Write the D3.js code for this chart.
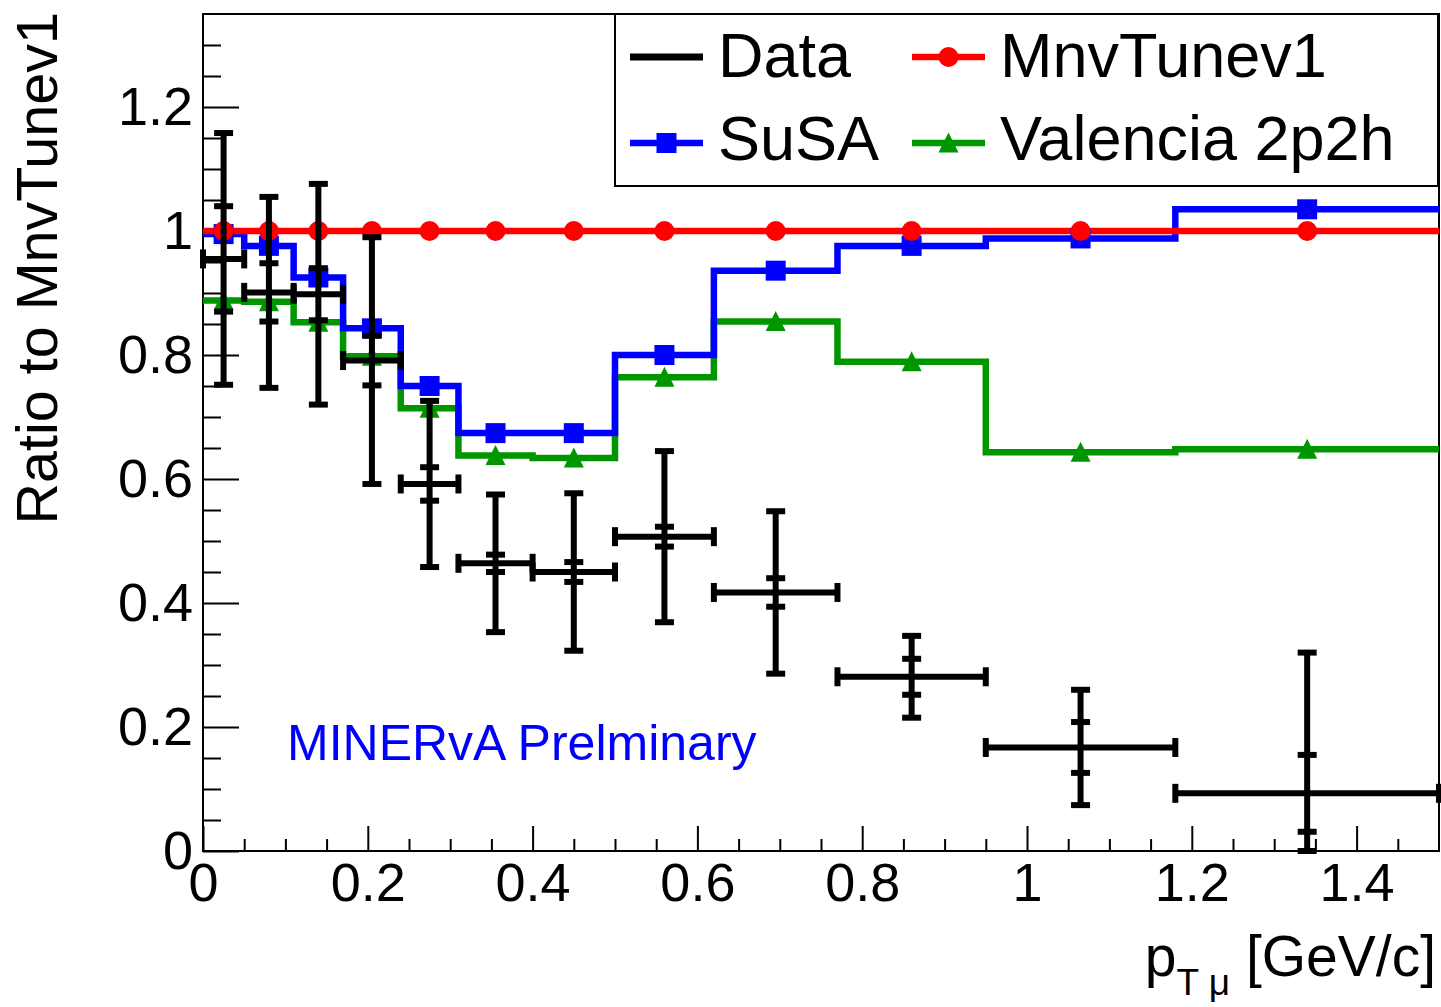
<!DOCTYPE html>
<html>
<head>
<meta charset="utf-8">
<title>Ratio to MnvTunev1</title>
<script src="https://cdn.jsdelivr.net/npm/d3@7"></script>
<style>
    body { margin: 0; background: #fff; }
    #chart-area { width: 1441px; height: 1007px; }
    text { font-family: "Liberation Sans", Arial, Helvetica, sans-serif; }
</style>
</head>
<body>
<div id="chart-area"></div>
<script>
// p_T bin edges [GeV/c]
const binEdges = [0, 0.05, 0.11, 0.17, 0.24, 0.31, 0.40, 0.50, 0.62, 0.77, 0.95, 1.18, 1.5];

// ratios to MnvTunev1, one value per bin
const dataRatio   = [0.955, 0.901, 0.898, 0.791, 0.592, 0.464, 0.450, 0.507, 0.417, 0.281, 0.167, 0.093];
const dataStatErr = [0.085, 0.047, 0.042, 0.040, 0.027, 0.014, 0.016, 0.016, 0.023, 0.029, 0.041, 0.062];
const dataTotErr  = [0.203, 0.154, 0.178, 0.199, 0.134, 0.111, 0.127, 0.138, 0.131, 0.066, 0.093, 0.227];
const mnvTuneRatio  = [1, 1, 1, 1, 1, 1, 1, 1, 1, 1, 1, 1];
const susaRatio     = [0.995, 0.976, 0.925, 0.843, 0.750, 0.674, 0.674, 0.800, 0.936, 0.976, 0.988, 1.035];
const valenciaRatio = [0.888, 0.886, 0.853, 0.798, 0.714, 0.638, 0.634, 0.764, 0.854, 0.789, 0.643, 0.648];

// axis ticks
const xTicks = [0, 0.2, 0.4, 0.6, 0.8, 1, 1.2, 1.4];
const yTicks = [0, 0.2, 0.4, 0.6, 0.8, 1, 1.2];

class RatioChart {
    constructor(parentElement) {
        this.parentElement = parentElement;
        this.initVis();
    }

    initVis() {
        let vis = this;

        vis.margin = {top: 14, right: 2, bottom: 156, left: 203};
        vis.width = 1441 - vis.margin.left - vis.margin.right;
        vis.height = 1007 - vis.margin.top - vis.margin.bottom;

        vis.root = d3.select("#" + vis.parentElement).append("svg")
            .attr("width", 1441)
            .attr("height", 1007);

        vis.svg = vis.root.append("g")
            .attr("transform", `translate(${vis.margin.left}, ${vis.margin.top})`);

        vis.svg.append("clipPath").attr("id", "plot-clip")
            .append("rect")
            .attr("width", vis.width)
            .attr("height", vis.height);

        // scales
        vis.x = d3.scaleLinear().domain([0, 1.5]).range([0, vis.width]);
        vis.y = d3.scaleLinear().domain([0, 1.35]).range([vis.height, 0]);

        vis.fmt = d3.format("~g");

        // minor ticks first, then majors with labels
        let xMinor = d3.range(0, 1.5, 0.05).filter(v => Math.abs(v * 5 - Math.round(v * 5)) > 1e-6);
        let yMinor = d3.range(0, 1.35, 0.05).filter(v => Math.abs(v * 5 - Math.round(v * 5)) > 1e-6);

        vis.svg.append("g")
            .attr("class", "x-axis minor")
            .attr("transform", `translate(0, ${vis.height})`)
            .call(d3.axisBottom(vis.x).tickValues(xMinor).tickSize(-12).tickFormat(""));

        vis.svg.append("g")
            .attr("class", "x-axis")
            .attr("transform", `translate(0, ${vis.height})`)
            .call(d3.axisBottom(vis.x).tickValues(xTicks).tickSize(-25).tickPadding(12).tickFormat(vis.fmt));

        vis.svg.append("g")
            .attr("class", "y-axis minor")
            .call(d3.axisLeft(vis.y).tickValues(yMinor).tickSize(-18).tickFormat(""));

        vis.svg.append("g")
            .attr("class", "y-axis")
            .call(d3.axisLeft(vis.y).tickValues(yTicks).tickSize(-36).tickPadding(10).tickFormat(vis.fmt));

        vis.svg.selectAll(".domain").remove();
        vis.svg.selectAll(".tick line").attr("stroke", "#000").attr("stroke-width", 2);
        vis.svg.selectAll(".tick text")
            .attr("fill", "#000")
            .style("font-size", "54px");

        // frame
        vis.svg.append("rect")
            .attr("width", vis.width)
            .attr("height", vis.height)
            .attr("fill", "none")
            .attr("stroke", "#000")
            .attr("stroke-width", 2);

        // axis titles
        vis.root.append("text")
            .attr("transform", "translate(57, 12) rotate(-90)")
            .attr("text-anchor", "end")
            .style("font-size", "57.5px")
            .text("Ratio to MnvTunev1");

        let xt = vis.root.append("text")
            .attr("x", 1436)
            .attr("y", 976)
            .attr("text-anchor", "end")
            .style("font-size", "57px");
        xt.append("tspan").text("p");
        xt.append("tspan").attr("dy", 19).style("font-size", "37px").text("T \u03bc");
        xt.append("tspan").attr("dy", -19).text(" [GeV/c]");

        vis.svg.append("text")
            .attr("x", 287 - vis.margin.left)
            .attr("y", 760 - vis.margin.top)
            .attr("fill", "#0000ff")
            .style("font-size", "50px")
            .text("MINERvA Prelminary");

        vis.plot = vis.svg.append("g").attr("clip-path", "url(#plot-clip)");

        vis.wrangleData();
    }

    wrangleData() {
        let vis = this;

        vis.bins = binEdges.slice(0, -1).map((lo, i) => ({
            lo: lo,
            hi: binEdges[i + 1],
            mid: (lo + binEdges[i + 1]) / 2,
            data: dataRatio[i],
            stat: dataStatErr[i],
            tot: dataTotErr[i],
            mnv: mnvTuneRatio[i],
            susa: susaRatio[i],
            val: valenciaRatio[i]
        }));

        vis.models = [
            {key: "val", name: "Valencia 2p2h", color: "#009600", marker: "triangle"},
            {key: "susa", name: "SuSA", color: "#0000ff", marker: "square"},
            {key: "mnv", name: "MnvTunev1", color: "#ff0000", marker: "circle"}
        ];

        vis.updateVis();
    }

    markerPath(type) {
        if (type === "square") return "M-10,-10H10V10H-10Z";
        if (type === "triangle") return "M0,-10.5L10,9.5L-10,9.5Z";
        return d3.symbol(d3.symbolCircle, Math.PI * 10 * 10)();
    }

    updateVis() {
        let vis = this;

        let line = d3.line().x(d => vis.x(d[0])).y(d => vis.y(d[1]));
        let clampY = v => vis.y(Math.max(0, Math.min(1.35, v)));

        // histogram outlines
        vis.models.forEach(m => {
            let pts = [];
            vis.bins.forEach(b => {
                pts.push([b.lo, b[m.key]]);
                pts.push([b.hi, b[m.key]]);
            });
            vis.plot.append("path")
                .attr("d", line(pts))
                .attr("fill", "none")
                .attr("stroke", m.color)
                .attr("stroke-width", 6.5)
                .attr("stroke-linejoin", "miter");
        });

        // data error bars
        let eb = vis.svg.append("g")
            .attr("stroke", "#000")
            .attr("stroke-width", 6)
            .attr("fill", "none");

        let capHalf = 9.5;
        vis.bins.forEach(b => {
            let cx = vis.x(b.mid);
            let cy = vis.y(b.data);
            let g = eb.append("g");
            // horizontal bin width
            g.append("line").attr("x1", vis.x(b.lo)).attr("x2", vis.x(b.hi)).attr("y1", cy).attr("y2", cy);
            [b.lo, b.hi].forEach(e => {
                g.append("line").attr("x1", vis.x(e)).attr("x2", vis.x(e))
                    .attr("y1", cy - capHalf).attr("y2", cy + capHalf);
            });
            // total error
            g.append("line").attr("x1", cx).attr("x2", cx)
                .attr("y1", clampY(b.data - b.tot)).attr("y2", clampY(b.data + b.tot));
            [b.data - b.tot, b.data + b.tot, b.data - b.stat, b.data + b.stat].forEach(v => {
                g.append("line").attr("x1", cx - capHalf).attr("x2", cx + capHalf)
                    .attr("y1", clampY(v)).attr("y2", clampY(v));
            });
        });

        // markers on top
        vis.models.forEach(m => {
            vis.plot.append("g").selectAll("path")
                .data(vis.bins)
                .enter()
                .append("path")
                .attr("d", vis.markerPath(m.marker))
                .attr("transform", d => `translate(${vis.x(d.mid)}, ${vis.y(d[m.key])})`)
                .attr("fill", m.color);
        });

        // legend
        let lx = 615 - vis.margin.left;
        let legend = vis.svg.append("g").attr("class", "legend");
        legend.append("rect")
            .attr("x", lx)
            .attr("y", 0)
            .attr("width", vis.width - lx - 1)
            .attr("height", 172)
            .attr("fill", "#fff")
            .attr("stroke", "#000")
            .attr("stroke-width", 2);

        let entries = [
            {name: "Data", color: "#000", marker: null, col: 0, row: 0},
            {name: "MnvTunev1", color: "#ff0000", marker: "circle", col: 1, row: 0},
            {name: "SuSA", color: "#0000ff", marker: "square", col: 0, row: 1},
            {name: "Valencia 2p2h", color: "#009600", marker: "triangle", col: 1, row: 1}
        ];
        let colX = [630 - vis.margin.left, 912 - vis.margin.left];
        let rowY = [57 - vis.margin.top, 143 - vis.margin.top];
        let rowBase = [77 - vis.margin.top, 160 - vis.margin.top];

        entries.forEach(e => {
            let x0 = colX[e.col];
            let yy = rowY[e.row];
            legend.append("line")
                .attr("x1", x0).attr("x2", x0 + 73)
                .attr("y1", yy).attr("y2", yy)
                .attr("stroke", e.color)
                .attr("stroke-width", e.marker ? 6.5 : 7);
            if (e.marker) {
                legend.append("path")
                    .attr("d", vis.markerPath(e.marker))
                    .attr("transform", `translate(${x0 + 36.5}, ${yy})`)
                    .attr("fill", e.color);
            }
            legend.append("text")
                .attr("x", x0 + 88)
                .attr("y", rowBase[e.row])
                .style("font-size", "63px")
                .text(e.name);
        });
    }
}

new RatioChart("chart-area");
</script>
</body>
</html>
